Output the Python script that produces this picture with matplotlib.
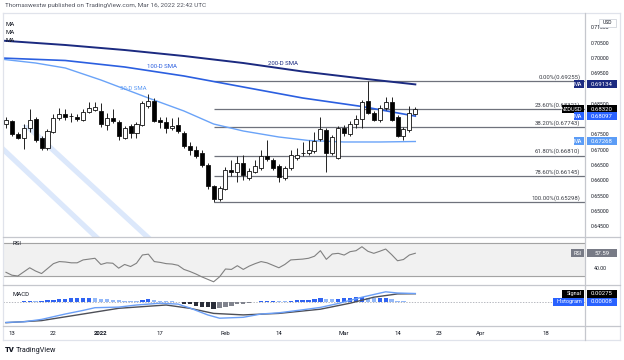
import numpy as np
import matplotlib
matplotlib.use('Agg')
import matplotlib.pyplot as plt
from matplotlib.patches import Rectangle, Polygon
from matplotlib.lines import Line2D

plt.rcParams['font.family'] = ['Roboto', 'DejaVu Sans']

# ---- data (NZDUSD daily, Dec 10 2021 .. Mar 17 2022) ----
opens = [0.6784, 0.6794, 0.6751, 0.6738, 0.6771, 0.6800, 0.6738, 0.6706, 0.6758, 0.6804,
         0.6817, 0.6810, 0.6807, 0.6797, 0.6823, 0.6830, 0.6826, 0.6781, 0.6804, 0.6791,
         0.6738, 0.6777, 0.6755, 0.6781, 0.6843, 0.6859, 0.6797, 0.6791, 0.6771, 0.6781,
         0.6755, 0.6712, 0.6699, 0.6689, 0.6650, 0.6581, 0.6539, 0.6572, 0.6634, 0.6627,
         0.6657, 0.6608, 0.6627, 0.6640, 0.6679, 0.6666, 0.6647, 0.6608, 0.6640, 0.6673,
         0.6689, 0.6689, 0.6696, 0.6735, 0.6764, 0.6689, 0.6673, 0.6771, 0.6751, 0.6784,
         0.6800, 0.6859, 0.6820, 0.6797, 0.6836, 0.6856, 0.6807, 0.6745, 0.6764, 0.6817]
highs = [0.6807, 0.6797, 0.6758, 0.6784, 0.6833, 0.6807, 0.6745, 0.6768, 0.6817, 0.6836,
         0.6833, 0.6820, 0.6817, 0.6833, 0.6856, 0.6856, 0.6853, 0.6820, 0.6833, 0.6797,
         0.6777, 0.6784, 0.6791, 0.6859, 0.6882, 0.6869, 0.6807, 0.6807, 0.6804, 0.6807,
         0.6761, 0.6725, 0.6712, 0.6699, 0.6657, 0.6585, 0.6581, 0.6643, 0.6666, 0.6679,
         0.6683, 0.6640, 0.6666, 0.6699, 0.6732, 0.6673, 0.6653, 0.6647, 0.6699, 0.6706,
         0.6725, 0.6732, 0.6758, 0.6807, 0.6771, 0.6748, 0.6777, 0.6781, 0.6794, 0.6813,
         0.6862, 0.69255, 0.6826, 0.6846, 0.6872, 0.6872, 0.6813, 0.6774, 0.6843, 0.6840]
lows = [0.6771, 0.6745, 0.6735, 0.6702, 0.6758, 0.6725, 0.6699, 0.6699, 0.6755, 0.6797,
        0.6797, 0.6791, 0.6794, 0.6794, 0.6820, 0.6826, 0.6774, 0.6764, 0.6787, 0.6732,
        0.6735, 0.6738, 0.6738, 0.6777, 0.6836, 0.6791, 0.6771, 0.6755, 0.6764, 0.6755,
        0.6706, 0.6683, 0.6673, 0.6643, 0.6572, 0.65298, 0.6532, 0.6568, 0.6614, 0.6594,
        0.6601, 0.6601, 0.6624, 0.6634, 0.6663, 0.6634, 0.6594, 0.6601, 0.6634, 0.6666,
        0.6679, 0.6683, 0.6689, 0.6728, 0.6627, 0.6683, 0.6670, 0.6745, 0.6745, 0.6771,
        0.6771, 0.6817, 0.6794, 0.6791, 0.6830, 0.6794, 0.6742, 0.6732, 0.6758, 0.6813]
closes = [0.6797, 0.6751, 0.6738, 0.6771, 0.6797, 0.6732, 0.6706, 0.6761, 0.6804, 0.6817,
          0.6807, 0.6811, 0.6800, 0.6823, 0.6836, 0.6840, 0.6784, 0.6804, 0.6794, 0.6745,
          0.6771, 0.6755, 0.6784, 0.6853, 0.6859, 0.6794, 0.6791, 0.6771, 0.6777, 0.6761,
          0.6712, 0.6699, 0.6679, 0.6650, 0.6581, 0.6539, 0.6575, 0.6634, 0.6627, 0.6657,
          0.6617, 0.6630, 0.6647, 0.6679, 0.6670, 0.6640, 0.6611, 0.6640, 0.6683, 0.6683,
          0.6690, 0.6699, 0.6728, 0.6768, 0.6689, 0.6742, 0.6771, 0.6755, 0.6784, 0.6800,
          0.6856, 0.6820, 0.6797, 0.6836, 0.6856, 0.6797, 0.6745, 0.6768, 0.6820, 0.6832]

# moving averages, read at a few bars
sma_idx = [-1, 10, 20, 30, 40, 50, 60, 69]
sma200 = [0.70569, 0.70422, 0.70258, 0.70062, 0.69833, 0.69556, 0.69327, 0.69134]
sma100 = [0.69997, 0.69915, 0.69703, 0.69409, 0.69049, 0.68690, 0.68412, 0.68097]
sma50_idx = [-1, 5, 10, 16, 20, 24, 30, 35, 40, 46, 51, 57, 63, 69]
sma50 = [0.69964, 0.69833, 0.69670, 0.69278, 0.68984, 0.68690, 0.68265, 0.67840,
         0.67611, 0.67415, 0.67301, 0.67252, 0.67252, 0.67268]

fib_pct = [0.0, 23.6, 38.2, 61.8, 78.6, 100.0]
fib_lvl = [0.69255, 0.68321, 0.67743, 0.66810, 0.66145, 0.65298]
fib_start = 35

rsi = [34.5, 31, 30, 35, 40, 36, 33, 39, 45, 47.5,
       47, 46, 46, 49.5, 50.5, 51.5, 44, 46, 45.5, 39.5,
       44, 41.5, 45.5, 55.5, 56.5, 47.5, 46.5, 45, 44.5, 43,
       38, 35.5, 32.5, 29, 26, 23, 29, 38.5, 38, 42.5,
       38, 42, 45, 47.5, 46, 43, 40, 44, 49.5, 50,
       50.5, 51.5, 54, 60.7, 50.2, 56.7, 57.5, 55.4, 59.5, 60.7,
       65.5, 60, 57.5, 60, 62.7, 56, 48.5, 50, 55.5, 57.59]

hist = [0.0001, 0.0001, 0.00007, 0.00027, 0.00033, 0.00027, 0.0004, 0.0006, 0.00073, 0.00093,
        0.00107, 0.00117, 0.00127, 0.00127, 0.00133, 0.00127, 0.0011, 0.00093, 0.00083, 0.00067,
        0.0005, 0.0004, 0.00033, 0.00067, 0.00093, 0.00073, 0.0005, 0.00033, 0.00017, -0.0001,
        -0.0005, -0.00083, -0.00117, -0.0015, -0.00183, -0.00217, -0.002, -0.0015, -0.00117, -0.00083,
        -0.0006, -0.00033, -0.0001, 0.00017, 0.00027, 0.0005, 0.0004, 0.00033, 0.0004, 0.0006,
        0.00073, 0.00083, 0.001, 0.00127, 0.00107, 0.001, 0.00107, 0.00117, 0.00133, 0.0016,
        0.00173, 0.0015, 0.00117, 0.00127, 0.00133, 0.001, 0.0005, 0.00017, -0.0001, 0.00008]
macd_idx = [0, 3, 6, 10, 13, 15, 19, 22, 26, 29, 31, 34, 36, 40, 43, 46, 50, 53, 56, 60, 64, 66, 69]
macd = [-0.0068, -0.0066, -0.0058, -0.0040, -0.0028, -0.0019, -0.0017, -0.0010, -0.0004, -0.0007,
        -0.0020, -0.0043, -0.0054, -0.0051, -0.0040, -0.0036, -0.0026, -0.0018, -0.0005, 0.0016,
        0.0034, 0.0030, 0.00283]
signal_idx = [0, 6, 13, 19, 27, 31, 35, 40, 46, 53, 58, 62, 66, 69]
signal = [-0.0069, -0.0062, -0.0040, -0.0021, -0.0010, -0.0021, -0.0038, -0.0043, -0.0038,
          -0.0024, -0.0004, 0.0016, 0.0027, 0.00275]

tick_pos = [1, 8, 16, 26, 37, 46, 57, 66, 73, 80, 91]
tick_lab = ['13', '22', '2022', '17', 'Feb', '14', 'Mar', '14', '23', 'Apr', '18']
price_ticks = [0.645, 0.650, 0.655, 0.660, 0.665, 0.670, 0.675, 0.685, 0.695, 0.700, 0.705, 0.710]

# decorative diagonal bands (bar index, price)
band_a = [(2.7, 0.67807), (24.3, 0.63951)]
band_b = [(-2.7, 0.67301), (15.9, 0.63899)]

# ---- layout helpers ----
W, H = 624, 360
fig = plt.figure(figsize=(W / 100, H / 100), dpi=100)
TXT = '#131722'
FS = 4.3


def px_axes(x0, y0, x1, y1):
    ax = fig.add_axes([x0 / W, 1 - y1 / H, (x1 - x0) / W, (y1 - y0) / H])
    for s in ax.spines.values():
        s.set_visible(False)
    ax.set_facecolor('none')
    return ax


def fig_line(x0, y0, x1, y1, color='#c5c7cd', lw=0.9):
    fig.add_artist(Line2D([x0 / W, x1 / W], [1 - y0 / H, 1 - y1 / H], color=color, lw=lw))


def badge(ax, v, name, value, color, name_color=None):
    yf = fig.transFigure.inverted().transform(ax.transData.transform((0, v)))[1]
    fig.add_artist(Rectangle((587 / W, yf - 4 / H), 30 / W, 8 / H, transform=fig.transFigure,
                             fc=color, ec='none', zorder=5))
    fig.text(602 / W, yf, value, ha='center', va='center', fontsize=FS, color='white', zorder=6)
    nw = 3.0 * len(name) + 5
    fig.add_artist(Rectangle(((585 - nw) / W, yf - 4 / H), (nw - 1) / W, 8 / H,
                             transform=fig.transFigure, fc=name_color or color, ec='none', zorder=5))
    fig.text(582 / W, yf, name, ha='right', va='center', fontsize=FS - 0.3, color='white', zorder=6)


X0, X1 = -0.5, 97.6

# ---- main price panel ----
ax = px_axes(3, 14, 585, 237)
ax.set_xlim(X0, X1)
ax.set_ylim(0.641471, 0.714346)

for (p0, p1) in (band_a, band_b):
    ax.add_patch(Polygon([p0, (p0[0] + 1.3, p0[1]), (p1[0] + 1.3, p1[1]), p1],
                         closed=True, fc='#dce8fb', ec='none', zorder=0))

ax.hlines(fib_lvl, fib_start, X1, color='#6f727c', lw=0.9, zorder=1)
for pct, lvl in zip(fib_pct, fib_lvl):
    ax.annotate(f'{pct:.2f}%({lvl:.5f})', (96.8, lvl), xytext=(0, 0.8), textcoords='offset points',
                ha='right', va='bottom', fontsize=FS, color='#3a3d45', zorder=2)

ax.plot(sma_idx, sma200, color='#1b2a80', lw=1.4, zorder=3)
ax.plot(sma_idx, sma100, color='#2b5fe0', lw=1.2, zorder=3)
ax.plot(sma50_idx, sma50, color='#6aa3f8', lw=1.0, zorder=3)
ax.text(46.7, 0.69833, '200-D SMA', color='#1b2a80', fontsize=FS, ha='center', va='center')
ax.text(26.3, 0.69735, '100-D SMA', color='#2b5fe0', fontsize=FS, ha='center', va='center')
ax.text(21.4, 0.69016, '50-D SMA', color='#5f9cf5', fontsize=FS, ha='center', va='center')

for i, (o, h, l, c) in enumerate(zip(opens, highs, lows, closes)):
    ax.vlines(i, l, h, color='#222222', lw=0.7, zorder=4)
    bottom = min(o, c)
    ht = max(abs(c - o), 0.00004)
    fc = '#000000' if c < o else '#ffffff'
    ax.add_patch(Rectangle((i - 0.34, bottom), 0.68, ht, fc=fc, ec='#111111', lw=0.6, zorder=5))

ax.set_xticks([])
ax.yaxis.tick_right()
ax.set_yticks(price_ticks)
ax.set_yticklabels([f'{v:.5f}' for v in price_ticks])
ax.tick_params(axis='y', length=0, pad=4.0, labelsize=3.7, labelcolor=TXT)

# ---- RSI panel ----
ax_rsi = px_axes(3, 237, 585, 285)
ax_rsi.set_xlim(X0, X1)
ax_rsi.set_ylim(19.1, 77.3)
ax_rsi.axhspan(30, 70, color='#f1f1f1', zorder=0)
ax_rsi.axhline(70, color='#a3a3a3', lw=0.8)
ax_rsi.axhline(30, color='#a3a3a3', lw=0.8)
ax_rsi.plot(range(len(rsi)), rsi, color='#808080', lw=0.8)
ax_rsi.set_xticks([])
ax_rsi.yaxis.tick_right()
ax_rsi.set_yticks([40])
ax_rsi.set_yticklabels(['40.00'])
ax_rsi.tick_params(axis='y', length=0, pad=6, labelsize=3.7, labelcolor=TXT)
ax_rsi.text(0.017, 0.86, 'RSI', transform=ax_rsi.transAxes, fontsize=FS, color=TXT, va='center')

# ---- MACD panel ----
ax_m = px_axes(3, 285, 585, 326)
ax_m.set_xlim(X0, X1)
ax_m.set_ylim(-0.008, 0.00567)
cols = []
for k, h in enumerate(hist):
    prev = hist[k - 1] if k else h
    if h >= 0:
        cols.append('#2f63f2' if h >= prev else '#93b8f8')
    else:
        cols.append('#2a2e39' if h <= prev else '#80838d')
ax_m.bar(range(len(hist)), hist, width=0.72, color=cols, zorder=2)
ax_m.axhline(0, color='#9a9da6', lw=0.5, ls=(0, (2, 2)), zorder=1)
ax_m.plot(signal_idx, signal, color='#4d4f57', lw=1.0, zorder=3)
ax_m.plot(macd_idx, macd, color='#6b9ff7', lw=1.0, zorder=3)
ax_m.set_yticks([])
ax_m.set_xticks(tick_pos)
ax_m.set_xticklabels(tick_lab)
ax_m.tick_params(axis='x', length=0, pad=3.5, labelsize=FS, labelcolor=TXT)
for t in ax_m.get_xticklabels():
    if t.get_text() == '2022':
        t.set_fontweight('bold')
ax_m.text(0.017, 0.78, 'MACD', transform=ax_m.transAxes, fontsize=FS, color=TXT, va='center')

# ---- frame and separators ----
fig_line(3, 13, 620, 13, color='#e0e3eb')
fig_line(3, 340, 620, 340, color='#e0e3eb')
fig_line(3, 13, 3, 340, color='#e0e3eb')
fig_line(620, 13, 620, 340, color='#e0e3eb')
for yy in (237, 285, 326):
    fig_line(3, yy, 620, yy)
fig_line(585, 13, 585, 340)

# ---- badges ----
badge(ax, sma200[-1], 'MA', f'{sma200[-1]:.5f}', '#1b2a80')
badge(ax, closes[-1], 'NZDUSD', f'{closes[-1]:.5f}', '#000000')
badge(ax, sma100[-1], 'MA', f'{sma100[-1]:.5f}', '#2962ff')
badge(ax, sma50[-1], 'MA', f'{sma50[-1]:.5f}', '#5b9cf6')
badge(ax_rsi, rsi[-1], 'RSI', f'{rsi[-1]:.2f}', '#787b86')
badge(ax_m, signal[-1], 'Signal', f'{signal[-1]:.5f}', '#000000')
badge(ax_m, hist[-1], 'Histogram', f'{hist[-1]:.5f}', '#2962ff')

# USD box on top of price scale
fig.add_artist(Rectangle((599 / W, 1 - 27 / H), 17 / W, 8 / H, transform=fig.transFigure,
                         fc='white', ec='#d1d4dc', lw=0.6, zorder=5))
fig.text(607.5 / W, 1 - 23 / H, 'USD', ha='center', va='center', fontsize=3.6, color=TXT, zorder=6)

# ---- header, legend stubs and footer ----
fig.text(5 / W, 1 - 6 / H, 'Thomaswestw published on TradingView.com, Mar 16, 2022 22:42 UTC',
         fontsize=4.55, color='#50535e', va='center')
for yy in (24, 32, 40):
    fig.text(5 / W, 1 - yy / H, 'MA', fontsize=FS, color=TXT, va='center')
fig.text(5 / W, 1 - 350 / H, 'TV', fontsize=5.5, fontweight='heavy', color=TXT, va='center')
fig.text(16 / W, 1 - 350 / H, 'TradingView', fontsize=5.2, color=TXT, va='center')

fig.savefig('out.png', dpi=100, facecolor='white')
